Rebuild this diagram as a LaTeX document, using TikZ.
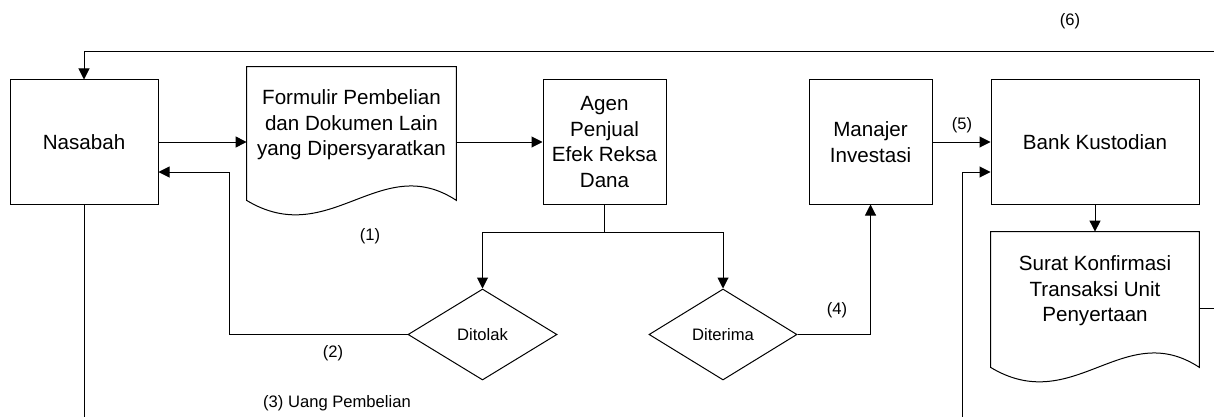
\documentclass[tikz,border=0pt]{standalone}
\usepackage{fontspec}
\setmainfont{Liberation Sans}
\usetikzlibrary{calc,arrows.meta,shapes.geometric}
\tikzset{>={Triangle[length=5.5pt,width=5.5pt]}}
\tikzset{
  box/.style={draw,line width=0.5pt,inner sep=0pt,minimum height=62pt,align=center,font=\fontsize{10.3}{12.8}\selectfont},
  docbox/.style={inner sep=0pt,align=center,font=\fontsize{10.3}{12.8}\selectfont},
  choice/.style={draw,line width=0.5pt,diamond,inner sep=0pt,minimum height=45.5pt,font=\fontsize{8.3}{10}\selectfont},
  tag/.style={inner sep=0pt,font=\fontsize{8.3}{10}\selectfont},
  arr/.style={->,line width=0.5pt},
  conn/.style={line width=0.5pt}
}

\begin{document}
\begin{tikzpicture}[x=0.5pt,y=-0.5pt]
\useasboundingbox (0,0) rectangle (1214,417);
    % boxes
    \node[box,minimum width=74pt] (nasabah) at (84,142) {Nasabah};
    \node[box,minimum width=61.5pt] (agen) at (604.5,142) {Agen\\Penjual\\Efek Reksa\\Dana};
    \node[box,minimum width=61.5pt] (manajer) at (870.5,142) {Manajer\\Investasi};
    \node[box,minimum width=104pt] (bank) at (1095,142) {Bank Kustodian};
    % documents
    \node[docbox,minimum width=104.5pt,minimum height=58pt] (form) at (351.5,125) {Formulir Pembelian\\dan Dokumen Lain\\yang Dipersyaratkan};
    \draw[conn] (form.north west) -- ($(form.south west)+(0,17)$) .. controls +(83,50) and +(-76,-50) .. ($(form.south east)+(0,17)$) -- (form.north east) -- cycle;
    \node[docbox,minimum width=104pt,minimum height=59pt] (konf) at (1095,291) {Surat Konfirmasi\\Transaksi Unit\\Penyertaan};
    \draw[conn] (konf.north west) -- ($(konf.south west)+(0,17)$) .. controls +(83,50) and +(-76,-50) .. ($(konf.south east)+(0,17)$) -- (konf.north east) -- cycle;
    % decisions
    \node[choice,minimum width=74.5pt] (tolak) at (482.5,334.5) {Ditolak};
    \node[choice,minimum width=74pt] (terima) at (723,334.5) {Diterima};
    % free ends
    \coordinate (toprt) at (1214,52);
    \coordinate (nasabot) at (84,417);
    \coordinate (bankbot) at (962,417);
    \coordinate (konfrt) at (1214,308);
    \coordinate (tolakbend) at (229,172);
    % connectors
    \draw[arr] (nasabah.east) -- (nasabah.east -| form.west);
    \draw[arr] (agen.west -| form.east) -- (agen.west);
    \draw[conn] (agen.south) -- ++(0,28) coordinate (split);
    \draw[arr] (split) -| (tolak.north);
    \draw[arr] (split) -| (terima.north);
    \draw[arr] (tolak.west) -| (tolakbend) -- ($(nasabah.east)+(0,30)$);
    \draw[arr] (terima.east) -| (manajer.south);
    \draw[arr] (manajer.east) -- (bank.west);
    \draw[arr] (bank.south) -- (konf.north);
    \draw[arr] (toprt) -| (nasabah.north);
    \draw[conn] (nasabah.south) -- (nasabot);
    \draw[arr] (bankbot) |- ($(bank.west)+(0,30)$);
    \draw[conn] ($(konf.east)+(0,17)$) -- (konfrt);
    % labels
    \node[tag] (t1) at (370,236) {(1)};
    \node[tag] (t2) at (333,353) {(2)};
    \node[tag] (t3) at (337,403) {(3) Uang Pembelian};
    \node[tag] (t4) at (837,310) {(4)};
    \node[tag] (t5) at (962,125) {(5)};
    \node[tag] (t6) at (1070,21) {(6)};
\end{tikzpicture}
\end{document}
